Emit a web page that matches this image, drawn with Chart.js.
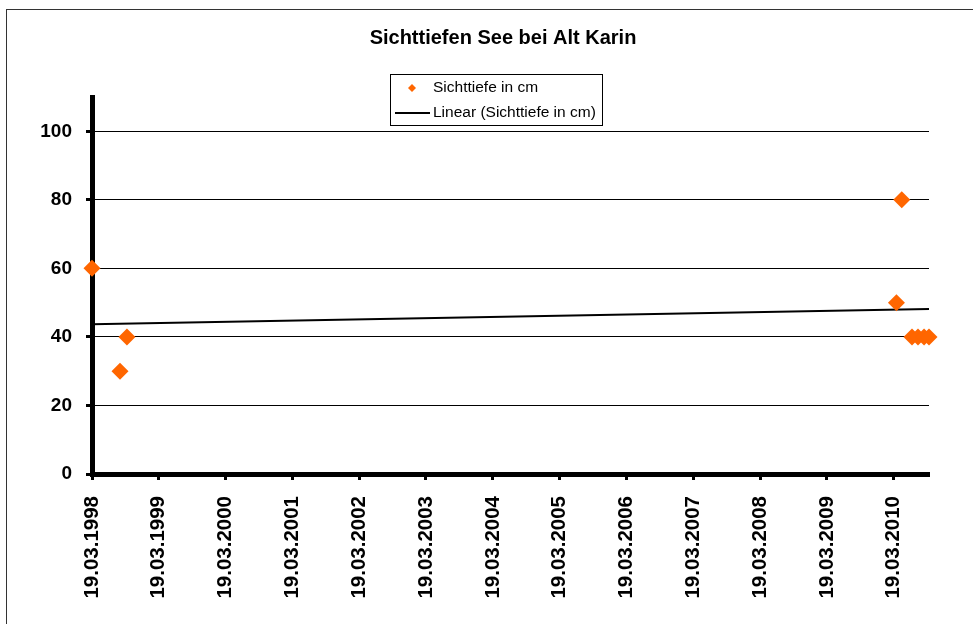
<!DOCTYPE html>
<html>
<head>
<meta charset="utf-8">
<script src="https://cdn.jsdelivr.net/npm/chart.js@4/dist/chart.umd.min.js"></script>
<style>
  html, body { margin: 0; padding: 0; background: #ffffff; }
  #wrap { position: relative; width: 973px; height: 624px; }
</style>
</head>
<body>
<div id="wrap"><canvas id="c" width="973" height="624"></canvas></div>
<script>
// Measurement dates (dd.mm.yyyy) and Secchi depth in cm
const dates = ['19.03.1998', '19.08.1998', '26.09.1998', '03.04.2010', '02.05.2010',
               '27.06.2010', '30.07.2010', '01.09.2010', '28.09.2010'];
const depthCm = [60, 30, 40, 50, 80, 40, 40, 40, 40];

const chartTitle = 'Sichttiefen See bei Alt Karin';
const seriesName = 'Sichttiefe in cm';
const trendName = 'Linear (Sichttiefe in cm)';
const yTicks = [0, 20, 40, 60, 80, 100];
const tickYears = [1998, 1999, 2000, 2001, 2002, 2003, 2004, 2005, 2006, 2007, 2008, 2009, 2010];

const DAY = 86400000;
function parseDate(s) {
  const [d, m, y] = s.split('.').map(Number);
  return Date.UTC(y, m - 1, d);
}
const base = parseDate(dates[0]);
const toDays = s => (parseDate(s) - base) / DAY;
const xs = dates.map(toDays);
const points = xs.map((x, i) => ({ x, y: depthCm[i] }));
const xMin = Math.min(...xs), xMax = Math.max(...xs);

// least-squares trend line across the measured range
const n = xs.length;
const mx = xs.reduce((a, b) => a + b, 0) / n;
const my = depthCm.reduce((a, b) => a + b, 0) / n;
let sxy = 0, sxx = 0;
for (let i = 0; i < n; i++) { sxy += (xs[i] - mx) * (depthCm[i] - my); sxx += (xs[i] - mx) ** 2; }
const slope = sxy / sxx, icpt = my - slope * mx;
const trend = [{ x: xMin, y: icpt + slope * xMin }, { x: xMax, y: icpt + slope * xMax }];

const pad2 = v => String(v).padStart(2, '0');
function fmtDays(v) {
  const d = new Date(base + v * DAY);
  return pad2(d.getUTCDate()) + '.' + pad2(d.getUTCMonth() + 1) + '.' + d.getUTCFullYear();
}

const ORANGE = '#FF6600';
const FONT = '"Liberation Sans", Arial, sans-serif';

// frame, title and boxed legend
const decor = {
  id: 'decor',
  beforeDraw(chart) {
    const ctx = chart.ctx;
    ctx.save();
    ctx.fillStyle = '#fff';
    ctx.fillRect(0, 0, chart.width, chart.height);
    ctx.strokeStyle = '#333';
    ctx.lineWidth = 1;
    ctx.strokeRect(6.5, 9.5, 1100, 1100);
    ctx.restore();
  },
  afterDraw(chart) {
    const ctx = chart.ctx;
    ctx.save();
    ctx.fillStyle = '#000';
    ctx.textAlign = 'center';
    ctx.textBaseline = 'middle';
    ctx.font = 'bold 20px ' + FONT;
    ctx.fillText(chartTitle, 503, 38);

    // legend box
    ctx.strokeStyle = '#000';
    ctx.lineWidth = 1;
    ctx.strokeRect(390.5, 74.5, 212, 51);
    // marker
    ctx.fillStyle = ORANGE;
    ctx.beginPath();
    ctx.moveTo(412, 84); ctx.lineTo(416, 88); ctx.lineTo(412, 92); ctx.lineTo(408, 88);
    ctx.closePath(); ctx.fill();
    // trend line sample
    ctx.strokeStyle = '#000';
    ctx.lineWidth = 2;
    ctx.beginPath(); ctx.moveTo(395, 113); ctx.lineTo(430, 113); ctx.stroke();
    ctx.fillStyle = '#000';
    ctx.textAlign = 'left';
    ctx.font = '15.5px ' + FONT;
    ctx.fillText(seriesName, 433, 88);
    ctx.fillText(trendName, 433, 113);
    ctx.restore();
  }
};

new Chart(document.getElementById('c'), {
  data: {
    datasets: [
      {
        type: 'line',
        label: trendName,
        data: trend,
        borderColor: '#000',
        borderWidth: 2,
        pointRadius: 0,
        fill: false,
        order: 2
      },
      {
        type: 'scatter',
        label: seriesName,
        data: points,
        pointStyle: 'rectRot',
        pointRadius: 8.5,
        pointHoverRadius: 8.5,
        backgroundColor: ORANGE,
        borderColor: ORANGE,
        borderWidth: 0,
        clip: false,
        order: 1
      }
    ]
  },
  options: {
    responsive: false,
    animation: false,
    events: [],
    layout: { padding: { top: 97, right: 44, left: 0, bottom: 0 } },
    plugins: { legend: { display: false }, title: { display: false }, tooltip: { enabled: false } },
    scales: {
      x: {
        type: 'linear',
        min: xMin,
        max: xMax,
        afterFit(s) { s.height = 150; },
        afterBuildTicks(s) { s.ticks = tickYears.map(y => ({ value: (Date.UTC(y, 2, 19) - base) / DAY })); },
        border: { display: true, color: '#000', width: 5 },
        grid: { drawOnChartArea: false, drawTicks: true, tickLength: 6, tickWidth: 3, tickColor: '#000' },
        ticks: {
          autoSkip: false,
          minRotation: 90,
          maxRotation: 90,
          padding: 16,
          color: '#000',
          font: { family: FONT, size: 20.5, weight: 'bold' },
          callback: v => fmtDays(v)
        }
      },
      y: {
        type: 'linear',
        min: 0,
        max: 110,
        afterFit(s) { s.width = 92; },
        afterBuildTicks(s) { s.ticks = yTicks.map(v => ({ value: v })); },
        border: { display: true, color: '#000', width: 5 },
        grid: { color: '#000', lineWidth: 1, drawTicks: true, tickLength: 6, tickWidth: 3, tickColor: '#000' },
        ticks: {
          padding: 14,
          color: '#000',
          font: { family: FONT, size: 19, weight: 'bold' }
        }
      }
    }
  },
  plugins: [decor]
});
</script>
</body>
</html>
